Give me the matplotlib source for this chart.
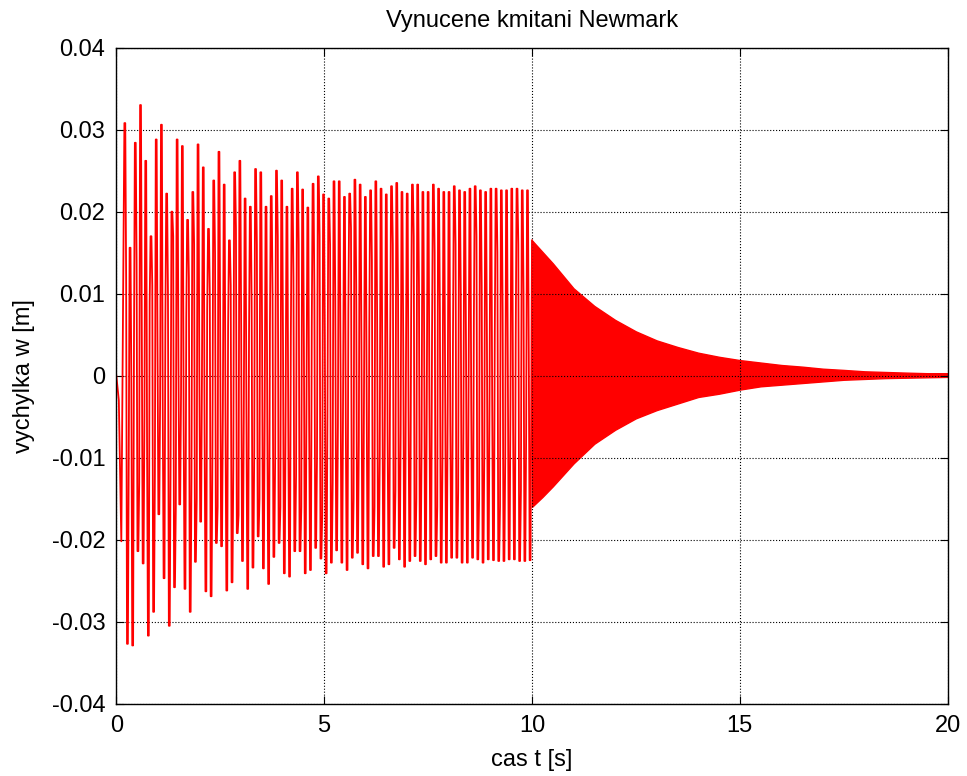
import numpy as np
import matplotlib
matplotlib.use('Agg')
import matplotlib.pyplot as plt

plt.rcParams['font.family'] = ['Liberation Sans', 'DejaVu Sans']

# forced part (0-10 s): values of each cycle
T0 = 0.194          # time of first upper peak [s]
PERIOD = 0.1258     # forcing period [s]
t_start = [0.0, 0.06, 0.12]
w_start = [0.0, -0.003, -0.0202]

tops = [0.0308, 0.0156, 0.0284, 0.0330, 0.0262, 0.0170, 0.0288, 0.0306, 0.0222, 0.0200,
        0.0288, 0.0280, 0.0190, 0.0224, 0.0282, 0.0254, 0.0179, 0.0238, 0.0273, 0.0233,
        0.0165, 0.0248, 0.0262, 0.0216, 0.0206, 0.0252, 0.0248, 0.0206, 0.0219, 0.0250,
        0.0238, 0.0206, 0.0228, 0.0248, 0.0227, 0.0205, 0.0234, 0.0243, 0.0221,
        0.0216, 0.0237, 0.0237, 0.0218, 0.0222, 0.0239, 0.0233, 0.0218, 0.0226, 0.0237,
        0.0228, 0.0221, 0.0231, 0.0235, 0.0224, 0.0222, 0.0233, 0.0233, 0.0224, 0.0224,
        0.0233, 0.0228, 0.0224, 0.0224, 0.0231, 0.0226, 0.0224, 0.0228, 0.0231, 0.0226,
        0.0224, 0.0228, 0.0228, 0.0226, 0.0226, 0.0228, 0.0228, 0.0226, 0.0226]

bottoms = [-0.0327, -0.0329, -0.0214, -0.0229, -0.0317, -0.0288, -0.0169, -0.0247, -0.0305, -0.0258,
           -0.0157, -0.0260, -0.0288, -0.0227, -0.0178, -0.0263, -0.0269, -0.0204, -0.0208, -0.0262,
           -0.0252, -0.0192, -0.0226, -0.0260, -0.0234, -0.0196, -0.0235, -0.0254, -0.0221, -0.0204,
           -0.0241, -0.0245, -0.0214, -0.0214, -0.0241, -0.0237, -0.0210, -0.0223,
           -0.0241, -0.0228, -0.0213, -0.0228, -0.0237, -0.0222, -0.0216, -0.0230, -0.0235, -0.0220,
           -0.0220, -0.0233, -0.0230, -0.0210, -0.0224, -0.0233, -0.0226, -0.0220, -0.0226, -0.0230,
           -0.0224, -0.0220, -0.0228, -0.0228, -0.0222, -0.0222, -0.0228, -0.0228, -0.0222, -0.0224,
           -0.0228, -0.0224, -0.0225, -0.0226, -0.0226, -0.0224, -0.0224, -0.0226, -0.0226, -0.0225]

# kinks on the falling and rising strokes (estimated)
mid_down = [0.012, -0.001, 0.014, 0.006, -0.008, 0.011, 0.004, -0.004, 0.010, 0.017,
            0.002, -0.006, 0.012, 0.016, 0.001, -0.007, 0.010, 0.015, 0.004, -0.005,
            0.011, 0.018, 0.006, -0.004, 0.009, 0.016, 0.005, -0.006, 0.010, 0.017,
            0.004, -0.005, 0.012, 0.016, 0.003, -0.006, 0.010, 0.017, 0.005,
            0.016, 0.009, 0.002, -0.005, 0.018, 0.011, 0.004, -0.003, 0.014, 0.007,
            0.000, -0.007, 0.016, 0.010, 0.003, -0.004, 0.017, 0.011, 0.004, -0.003,
            0.015, 0.008, 0.001, -0.006, 0.016, 0.010, 0.003, -0.004, 0.017, 0.011,
            0.004, -0.003, 0.015, 0.008, 0.001, -0.006, 0.016, 0.010, 0.003]
mid_up = [-0.010, 0.004, -0.013, -0.005, 0.009, -0.012, -0.003, 0.006, -0.011, -0.016,
          -0.002, 0.007, -0.012, -0.015, 0.000, 0.008, -0.010, -0.016, -0.004, 0.006,
          -0.011, -0.017, -0.005, 0.005, -0.009, -0.015, -0.004, 0.006, -0.010, -0.016,
          -0.004, 0.005, -0.012, -0.016, -0.003, 0.006, -0.010, -0.017, -0.005,
          -0.013, -0.006, 0.001, 0.008, -0.015, -0.008, -0.001, 0.006, -0.016, -0.010,
          -0.003, 0.004, -0.014, -0.007, 0.000, 0.007, -0.015, -0.009, -0.002, 0.005,
          -0.016, -0.010, -0.003, 0.004, -0.014, -0.007, 0.000, 0.007, -0.015, -0.009,
          -0.002, 0.005, -0.016, -0.010, -0.003, 0.004, -0.014, -0.007, 0.000]

# free vibration (10-20 s): envelope read every 0.5 s
t_env = [10.0, 10.25, 10.5, 11.0, 11.5, 12.0, 12.5, 13.0, 13.5, 14.0, 14.5,
         15.0, 15.5, 16.0, 16.5, 17.0, 17.5, 18.0, 18.5, 19.0, 19.5, 20.0]
env_up = [0.0165, 0.0151, 0.0137, 0.01065, 0.0085, 0.0068, 0.0054, 0.0043, 0.0035, 0.0028, 0.0023,
          0.0019, 0.0016, 0.0013, 0.0011, 0.00085, 0.0007, 0.00053, 0.00045, 0.00037, 0.0003, 0.0003]
env_lo = [-0.0160, -0.0148, -0.0135, -0.0107, -0.0083, -0.0066, -0.0052, -0.0042, -0.0034, -0.0026, -0.0022,
          -0.0017, -0.0013, -0.0011, -0.0009, -0.0007, -0.0005, -0.0004, -0.0003, -0.00025, -0.0002, -0.00015]

xticks = [0, 5, 10, 15, 20]
yticks = [-0.04, -0.03, -0.02, -0.01, 0, 0.01, 0.02, 0.03, 0.04]
ytick_labels = ['-0.04', '-0.03', '-0.02', '-0.01', '0', '0.01', '0.02', '0.03', '0.04']

# zigzag of the forced part: flat top, kink, flat bottom, kink for every cycle
n = len(tops)
t_top = T0 + PERIOD * np.arange(n)
step = PERIOD / 6
t_cyc = np.stack([t_top + i * step for i in range(6)], axis=1).ravel()
w_cyc = np.stack([tops, tops, mid_down, bottoms, bottoms, mid_up], axis=1).ravel()
t_forced = np.concatenate([t_start, t_cyc, [t_env[0]]])
w_forced = np.concatenate([w_start, w_cyc, [env_up[0]]])

fig = plt.figure(figsize=(9.67, 7.76), dpi=100)
ax = fig.add_axes([0.1203, 0.0932, 0.8597, 0.8454])

ax.plot(t_forced, w_forced, color='red', lw=1.3)
ax.fill_between(t_env, env_lo, env_up, color='red', lw=1.0, edgecolor='red')

ax.set_xlim(0, 20)
ax.set_ylim(-0.04, 0.04)
ax.set_xticks(xticks)
ax.set_xticklabels([str(x) for x in xticks])
ax.set_yticks(yticks)
ax.set_yticklabels(ytick_labels)
ax.grid(True, color='black', linestyle=':', lw=0.8)
ax.tick_params(direction='in', length=6, width=0.8, top=True, right=True, labelsize=17, pad=8)
for s in ax.spines.values():
    s.set_linewidth(1.0)

ax.set_title('Vynucene kmitani Newmark', fontsize=17, pad=15)
ax.set_xlabel('cas t [s]', fontsize=17, labelpad=9)
ax.set_ylabel('vychylka w [m]', fontsize=17, labelpad=12)

fig.savefig('out.png', dpi=100)
